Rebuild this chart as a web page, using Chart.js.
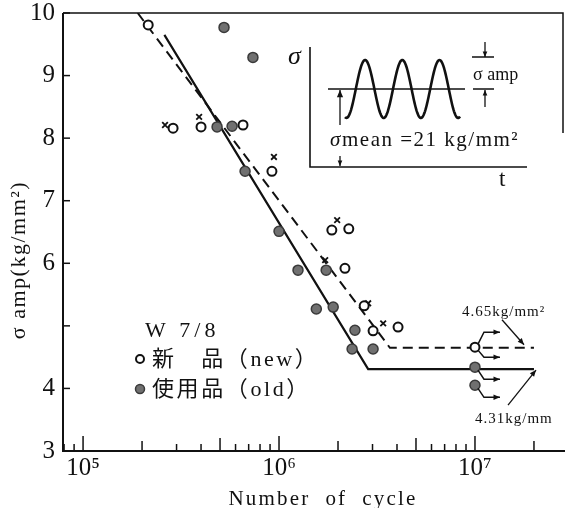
<!DOCTYPE html>
<html>
<head>
<meta charset="utf-8">
<script src="https://cdn.jsdelivr.net/npm/chart.js@4.4.1/dist/chart.umd.min.js"></script>
<style>
  html, body { margin: 0; padding: 0; background: #fff; }
  canvas { display: block; }
</style>
</head>
<body>
<canvas id="sn" width="566" height="508"></canvas>
<script>
// W 7/8 rope, fatigue test results (cycles, stress amplitude kg/mm2)
const newCycles = [2.15e5, 2.88e5, 4.0e5, 6.55e5, 9.2e5, 1.86e6, 2.27e6, 2.17e6, 2.72e6, 3.02e6, 4.05e6];
const newStress = [9.81, 8.16, 8.18, 8.21, 7.47, 6.53, 6.55, 5.92, 5.32, 4.92, 4.98];
const oldCycles = [5.24e5, 7.36e5, 4.83e5, 5.76e5, 6.71e5, 1.0e6, 1.25e6, 1.74e6, 1.55e6, 1.89e6, 2.44e6, 2.36e6, 3.02e6];
const oldStress = [9.77, 9.29, 8.18, 8.19, 7.47, 6.51, 5.89, 5.89, 5.27, 5.30, 4.93, 4.63, 4.63];

// run-outs (not broken at 1e7)
const newRunoutCycles = [1.0e7];
const newRunoutStress = [4.66];
const oldRunoutCycles = [1.0e7, 1.0e7];
const oldRunoutStress = [4.34, 4.05];

// small x marks next to some specimens
const markCycles = [2.62e5, 3.91e5, 9.42e5, 1.98e6, 1.72e6, 2.85e6, 3.40e6];
const markStress = [8.21, 8.34, 7.70, 6.69, 6.05, 5.36, 5.04];

// S-N curves
const newCurveCycles = [1.9e5, 3.68e6, 2.0e7];
const newCurveStress = [10, 4.65, 4.65];
const oldCurveCycles = [2.6e5, 2.85e6, 2.0e7];
const oldCurveStress = [9.65, 4.31, 4.31];

const xTicks = [1e5, 1e6, 1e7];
const xTickLabels = ['10⁵', '10⁶', '10⁷'];
const yTicks = [3, 4, 5, 6, 7, 8, 9, 10];
const yTickLabels = ['3', '4', '', '6', '7', '8', '9', '10'];

const SERIF = '"Liberation Serif", "Noto Sans CJK JP", serif';
const INK = '#111';

const pts = (xs, ys) => xs.map((x, i) => ({ x, y: ys[i] }));

const openStyle = { pointStyle: 'circle', pointRadius: 4.5, pointBorderWidth: 2, pointBorderColor: INK, pointBackgroundColor: '#fff' };
const fillStyle = { pointStyle: 'circle', pointRadius: 5, pointBorderWidth: 1.5, pointBorderColor: '#3a3a3a', pointBackgroundColor: '#707070' };

// keep the plot box where the layout puts it, no extra room for labels
const noPad = s => { s.paddingTop = s.paddingBottom = s.paddingLeft = s.paddingRight = 0; };

function head(ctx, x, y, ang, len) {
    ctx.beginPath();
    ctx.moveTo(x, y);
    ctx.lineTo(x - len * Math.cos(ang - 0.4), y - len * Math.sin(ang - 0.4));
    ctx.lineTo(x - len * Math.cos(ang + 0.4), y - len * Math.sin(ang + 0.4));
    ctx.closePath();
    ctx.fill();
}

function arrowPath(ctx, p, len) {
    ctx.beginPath();
    ctx.moveTo(p[0][0], p[0][1]);
    for (let i = 1; i < p.length; i++) ctx.lineTo(p[i][0], p[i][1]);
    ctx.stroke();
    const a = p[p.length - 2], b = p[p.length - 1];
    head(ctx, b[0], b[1], Math.atan2(b[1] - a[1], b[0] - a[0]), len || 7);
}

function text(ctx, s, x, y, font, spacing, align) {
    ctx.font = font;
    ctx.letterSpacing = (spacing || 0) + 'px';
    ctx.textAlign = align || 'left';
    ctx.fillText(s, x, y);
    ctx.letterSpacing = '0px';
}

const decor = {
    id: 'decor',
    beforeDatasetsDraw(chart) {
        const { ctx, chartArea: ca, scales: { x, y } } = chart;
        ctx.save();
        ctx.strokeStyle = INK;
        // frame
        ctx.lineWidth = 2;
        ctx.beginPath();
        ctx.moveTo(ca.left, ca.top);
        ctx.lineTo(ca.left, ca.bottom);
        ctx.lineTo(ca.right, ca.bottom);
        ctx.stroke();
        ctx.lineWidth = 1.5;
        ctx.beginPath();
        ctx.moveTo(ca.left, ca.top);
        ctx.lineTo(ca.right - 2, ca.top);
        ctx.lineTo(ca.right - 2, ca.top + 120);
        ctx.stroke();
        // x ticks, pointing inward
        for (let e = 4; e <= 7; e++) {
            for (let m = 1; m <= 9; m++) {
                const v = m * Math.pow(10, e);
                if (v < x.min || v > x.max) continue;
                const px = x.getPixelForValue(v);
                const len = m === 1 ? 15 : m === 5 ? 13 : m === 2 ? 10 : 7;
                ctx.beginPath();
                ctx.moveTo(px, ca.bottom);
                ctx.lineTo(px, ca.bottom - len);
                ctx.stroke();
            }
        }
        // y ticks
        yTicks.forEach(v => {
            const py = y.getPixelForValue(v);
            ctx.beginPath();
            ctx.moveTo(ca.left, py);
            ctx.lineTo(ca.left + 7, py);
            ctx.stroke();
        });
        ctx.restore();
    },
    afterDatasetsDraw(chart) {
        const { ctx, chartArea: ca, scales: { x, y } } = chart;
        ctx.save();
        ctx.strokeStyle = INK;
        ctx.fillStyle = INK;
        ctx.textBaseline = 'alphabetic';

        // run-out arrows
        ctx.lineWidth = 1.5;
        const branches = (cx, cy, offs) => offs.forEach(o => {
            arrowPath(ctx, [[cx + 3, cy + Math.sign(o) * 3], [cx + 9, cy + o], [cx + 25, cy + o]], 7);
        });
        newRunoutCycles.forEach((c, i) => branches(x.getPixelForValue(c), y.getPixelForValue(newRunoutStress[i]), [-15, 10]));
        oldRunoutCycles.forEach((c, i) => branches(x.getPixelForValue(c), y.getPixelForValue(oldRunoutStress[i]), [12]));

        // endurance limit labels
        const yN = y.getPixelForValue(newCurveStress[2]);
        const yO = y.getPixelForValue(oldCurveStress[2]);
        text(ctx, '4.65kg/mm²', 462, yN - 32, '15px ' + SERIF, 1);
        ctx.lineWidth = 1.3;
        arrowPath(ctx, [[502, yN - 28], [524, yN - 3]], 7);
        text(ctx, '4.31kg/mm', 475, yO + 54, '15px ' + SERIF, 1);
        arrowPath(ctx, [[508, yO + 36], [536, yO + 1]], 7);

        // inset sketch of the load wave
        ctx.translate(ca.left - 63, ca.top - 13);
        ctx.lineWidth = 1.6;
        ctx.beginPath();
        ctx.moveTo(310, 47);
        ctx.lineTo(310, 167);
        ctx.lineTo(527, 167);
        ctx.stroke();
        ctx.lineWidth = 1.5;
        ctx.beginPath();
        ctx.moveTo(328, 89);
        ctx.lineTo(465, 89);
        ctx.stroke();
        ctx.lineWidth = 2.6;
        ctx.beginPath();
        for (let px = 345; px <= 460; px += 0.5) {
            const py = 89 + 29 * Math.cos(2 * Math.PI * (px - 346.5) / 37.2);
            if (px === 345) ctx.moveTo(px, py); else ctx.lineTo(px, py);
        }
        ctx.stroke();
        ctx.lineWidth = 1.3;
        arrowPath(ctx, [[340, 125], [340, 90]], 8);
        arrowPath(ctx, [[340, 156], [340, 166]], 6);
        ctx.beginPath();
        ctx.moveTo(472, 57); ctx.lineTo(494, 57);
        ctx.moveTo(473, 89); ctx.lineTo(494, 89);
        ctx.stroke();
        arrowPath(ctx, [[485, 42], [485, 57]], 6);
        arrowPath(ctx, [[485, 107], [485, 90]], 6);
        text(ctx, 'σ', 288, 64, 'italic 26px ' + SERIF);
        text(ctx, 'σ amp', 473, 80, '18px ' + SERIF);
        text(ctx, 't', 499, 186, '23px ' + SERIF);
        text(ctx, 'σ', 330, 146, 'italic 21px ' + SERIF);
        text(ctx, 'mean =21 kg/mm²', 342, 146, '21px ' + SERIF, 1.5);
        ctx.setTransform(1, 0, 0, 1, 0, 0);

        // legend block
        text(ctx, 'W 7/8', 145, 337, '22px ' + SERIF, 4);
        ctx.textBaseline = 'middle';
        ctx.beginPath();
        ctx.arc(140, 359, 4, 0, Math.PI * 2);
        ctx.fillStyle = '#fff';
        ctx.fill();
        ctx.lineWidth = 2;
        ctx.stroke();
        ctx.beginPath();
        ctx.arc(140, 389, 4.5, 0, Math.PI * 2);
        ctx.fillStyle = '#707070';
        ctx.fill();
        ctx.strokeStyle = '#3a3a3a';
        ctx.lineWidth = 1.5;
        ctx.stroke();
        ctx.fillStyle = INK;
        text(ctx, '新　品（new）', 152, 360, '22px ' + SERIF, 2.6);
        text(ctx, '使用品（old）', 152, 390, '22px ' + SERIF, 2.6);

        // axis titles
        ctx.textBaseline = 'alphabetic';
        text(ctx, 'Number  of  cycle', 323, 505, '21px ' + SERIF, 2.2, 'center');
        ctx.translate(25, 260);
        ctx.rotate(-Math.PI / 2);
        text(ctx, 'σ amp(kg/mm²)', 0, 0, '22px ' + SERIF, 1.5, 'center');
        ctx.restore();
    }
};

new Chart(document.getElementById('sn'), {
    type: 'scatter',
    data: {
        datasets: [
            { label: 'new', data: pts(newCycles, newStress), order: 0, ...openStyle },
            { label: 'new run-out', data: pts(newRunoutCycles, newRunoutStress), order: 0, ...openStyle },
            { label: 'old', data: pts(oldCycles, oldStress), order: 0, ...fillStyle },
            { label: 'old run-out', data: pts(oldRunoutCycles, oldRunoutStress), order: 0, ...fillStyle },
            { label: 'marks', data: pts(markCycles, markStress), order: 0, pointStyle: 'crossRot', pointRadius: 4, pointBorderWidth: 1.8, pointBorderColor: INK },
            { label: 'new curve', type: 'line', data: pts(newCurveCycles, newCurveStress), order: 1, borderColor: INK, borderWidth: 2, borderDash: [10, 6], pointRadius: 0, fill: false, tension: 0 },
            { label: 'old curve', type: 'line', data: pts(oldCurveCycles, oldCurveStress), order: 1, borderColor: INK, borderWidth: 2.2, pointRadius: 0, fill: false, tension: 0 }
        ]
    },
    options: {
        responsive: false,
        animation: false,
        devicePixelRatio: 1,
        layout: { autoPadding: false, padding: { top: 13, right: 1, left: 0, bottom: 0 } },
        plugins: { legend: { display: false }, tooltip: { enabled: false } },
        scales: {
            x: {
                type: 'logarithmic',
                min: 7.9e4,
                max: 2.88e7,
                grid: { display: false, drawTicks: false },
                border: { display: false },
                afterBuildTicks: s => { s.ticks = xTicks.map(v => ({ value: v })); },
                afterFit: s => { s.height = 57; noPad(s); },
                ticks: {
                    autoSkip: false,
                    maxRotation: 0,
                    padding: 5,
                    color: INK,
                    font: { family: SERIF, size: 25, lineHeight: 1 },
                    callback: (v, i) => xTickLabels[i]
                }
            },
            y: {
                min: 3,
                max: 10,
                grid: { display: false, drawTicks: false },
                border: { display: false },
                afterBuildTicks: s => { s.ticks = yTicks.map(v => ({ value: v })); },
                afterFit: s => { s.width = 63; noPad(s); },
                ticks: {
                    padding: 8,
                    color: INK,
                    font: { family: SERIF, size: 25, lineHeight: 1 },
                    callback: (v, i) => yTickLabels[i]
                }
            }
        }
    },
    plugins: [decor]
});
</script>
</body>
</html>
